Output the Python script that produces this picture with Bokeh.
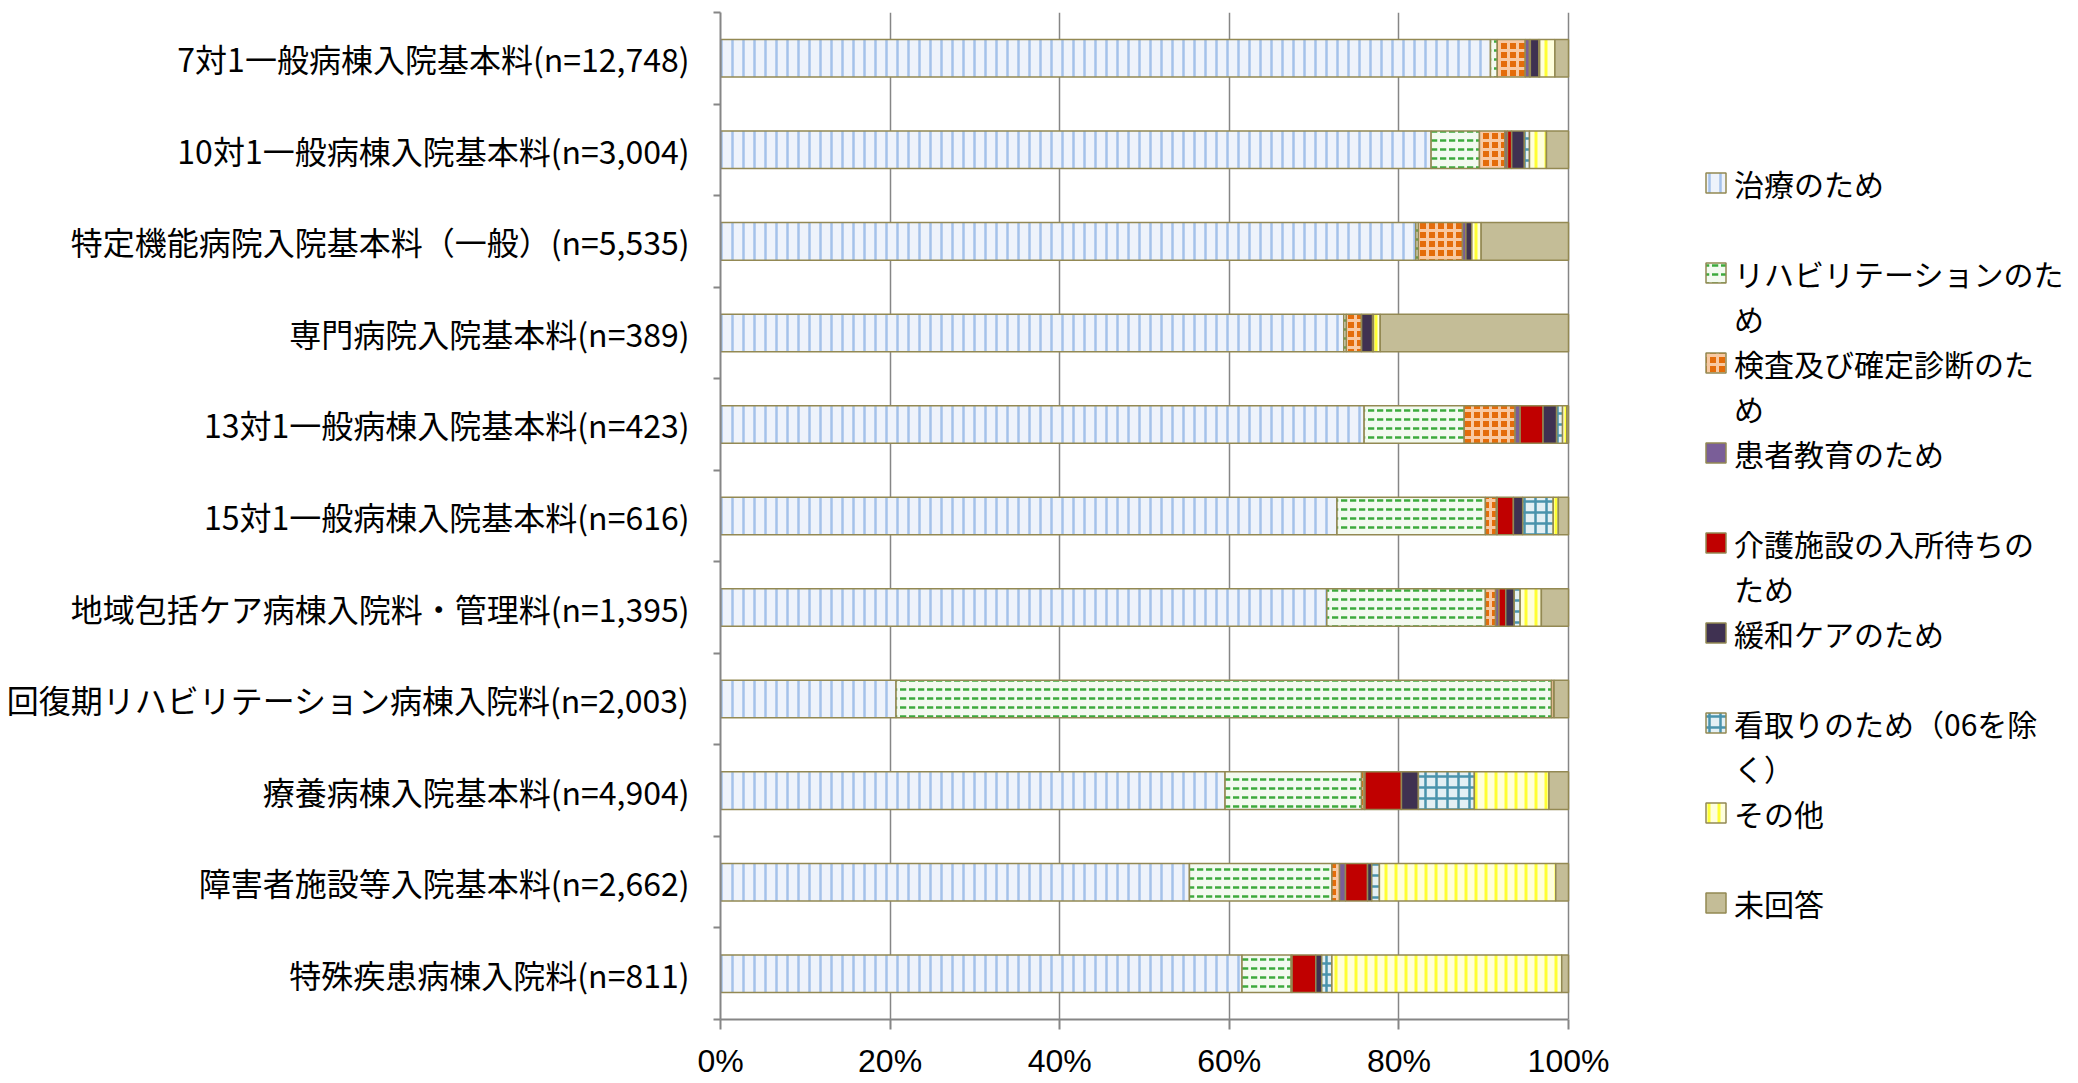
from bokeh.plotting import figure
from bokeh.models import (ColumnDataSource, Range1d, FixedTicker, PrintfTickFormatter,
                          Legend, LegendItem)
from bokeh.transform import stack
from bokeh.embed import file_html
from bokeh.resources import INLINE

categories = [
    "7対1一般病棟入院基本料(n=12,748)",
    "10対1一般病棟入院基本料(n=3,004)",
    "特定機能病院入院基本料（一般）(n=5,535)",
    "専門病院入院基本料(n=389)",
    "13対1一般病棟入院基本料(n=423)",
    "15対1一般病棟入院基本料(n=616)",
    "地域包括ケア病棟入院料・管理料(n=1,395)",
    "回復期リハビリテーション病棟入院料(n=2,003)",
    "療養病棟入院基本料(n=4,904)",
    "障害者施設等入院基本料(n=2,662)",
    "特殊疾患病棟入院料(n=811)",
]

# legend labels, wrapped as in the original (first line, second line)
series_labels = [
    ("治療のため", " "),
    ("リハビリテーションのた", "め"),
    ("検査及び確定診断のた", "め"),
    ("患者教育のため", " "),
    ("介護施設の入所待ちの", "ため"),
    ("緩和ケアのため", " "),
    ("看取りのため（06を除", "く）"),
    ("その他", " "),
    ("未回答", None),
]

treatment   = [90.8, 83.8, 82.0, 73.5, 75.9, 72.7, 71.5, 20.7, 59.5, 55.3, 61.5]
rehab       = [0.8, 5.7, 0.3, 0.3, 11.8, 17.5, 18.7, 77.3, 16.1, 16.8, 5.8]
exam        = [3.3, 3.0, 5.2, 1.8, 6.0, 1.3, 1.2, 0.3, 0.3, 0.9, 0.1]
education   = [0.5, 0.3, 0.4, 0.0, 0.6, 0.1, 0.4, 0.0, 0.1, 0.7, 0.0]
care_wait   = [0.1, 0.5, 0.0, 0.0, 2.7, 1.9, 0.8, 0.0, 4.3, 2.6, 2.8]
palliative  = [1.0, 1.5, 0.7, 1.3, 1.6, 1.1, 1.0, 0.0, 2.0, 0.5, 0.7]
end_of_life = [0.1, 0.6, 0.0, 0.1, 0.7, 3.6, 0.7, 0.0, 6.6, 0.9, 1.2]
other       = [1.8, 2.0, 1.1, 0.8, 0.5, 0.6, 2.5, 0.0, 8.8, 20.8, 27.1]
no_answer   = [1.6, 2.6, 10.3, 22.2, 0.2, 1.2, 3.2, 1.7, 2.3, 1.5, 0.8]

keys = ["treatment", "rehab", "exam", "education", "care_wait",
        "palliative", "end_of_life", "other", "no_answer"]
values = [treatment, rehab, exam, education, care_wait,
          palliative, end_of_life, other, no_answer]

x_ticks = [0, 20, 40, 60, 80, 100]

styles = [
    dict(fill_color="#EEF3FB", hatch_pattern="|", hatch_color="#A4C2EA", hatch_scale=11, hatch_weight=2.5),
    dict(fill_color="#F3FAF0", hatch_pattern='"', hatch_color="#3DAA3D", hatch_scale=9, hatch_weight=2.5),
    dict(fill_color="#E46C0A", hatch_pattern="+", hatch_color="#F8C9A2", hatch_scale=9, hatch_weight=3),
    dict(fill_color="#7A5E98"),
    dict(fill_color="#C00000"),
    dict(fill_color="#3F3151"),
    dict(fill_color="#E4F0F4", hatch_pattern="+", hatch_color="#4A93AC", hatch_scale=11, hatch_weight=2.5),
    dict(fill_color="#FFFFDC", hatch_pattern="|", hatch_color="#FFFF33", hatch_scale=10, hatch_weight=3),
    dict(fill_color="#C4BD97"),
]

data = {"y": list(range(len(categories)))}
for k, v in zip(keys, values):
    data[k] = v
source = ColumnDataSource(data)

JP = "Noto Sans CJK JP"
LAT = "'Liberation Sans Narrow', 'Liberation Sans'"
GRAY = "#868686"

W, H = 2076, 1081
FRAME_L, FRAME_R, FRAME_T, FRAME_B = 720, 1568, 12, 1024
# the frame is extended to the right edge so that the legend (drawn inside it) is not clipped;
# the value axis itself is bounded to 0-100 %
x_end = 100.0 * (W - FRAME_L) / (FRAME_R - FRAME_L)

p = figure(width=W, height=H, output_backend="svg", toolbar_location=None,
           x_range=Range1d(0, x_end), y_range=Range1d(len(categories) - 0.5, -0.5),
           min_border_left=FRAME_L, min_border_right=0, min_border_top=FRAME_T,
           min_border_bottom=H - FRAME_B)
p.outline_line_color = None

renderers = []
for i, k in enumerate(keys):
    r = p.hbar(y="y", left=stack(*keys[:i]), right=stack(*keys[:i + 1]), height=0.41,
               source=source, line_color="#938953", line_width=1.5, **styles[i])
    renderers.append(r)

# invisible renderer used only for the wrapped second lines of legend labels
blank = p.hbar(y="y", left=0, right=0, height=0, source=source,
               fill_alpha=0, line_alpha=0)

# x axis
p.xaxis.bounds = (0, 100)
p.xaxis.ticker = FixedTicker(ticks=x_ticks)
p.xaxis.formatter = PrintfTickFormatter(format="%d%%")
p.xaxis.axis_line_color = GRAY
p.xaxis.axis_line_width = 2
p.xaxis.major_tick_line_color = GRAY
p.xaxis.major_tick_line_width = 2
p.xaxis.major_tick_out = 10
p.xaxis.major_tick_in = 0
p.xaxis.minor_tick_line_color = None
p.xaxis.major_label_text_font = LAT
p.xaxis.major_label_text_font_size = "32px"
p.xaxis.major_label_text_color = "black"
p.xaxis.major_label_standoff = 13

# y axis
p.yaxis.ticker = FixedTicker(ticks=list(range(len(categories))),
                             minor_ticks=[i - 0.5 for i in range(len(categories) + 1)])
p.yaxis.major_label_overrides = {i: c for i, c in enumerate(categories)}
p.yaxis.axis_line_color = GRAY
p.yaxis.axis_line_width = 2
p.yaxis.major_tick_line_color = None
p.yaxis.major_tick_out = 0
p.yaxis.major_tick_in = 0
p.yaxis.minor_tick_line_color = GRAY
p.yaxis.minor_tick_line_width = 2
p.yaxis.minor_tick_out = 7
p.yaxis.minor_tick_in = 0
p.yaxis.major_label_text_font = JP
p.yaxis.major_label_text_font_size = "32px"
p.yaxis.major_label_text_color = "black"
p.yaxis.major_label_standoff = 24

p.ygrid.grid_line_color = None
p.xgrid.grid_line_color = GRAY
p.xgrid.grid_line_width = 1.5

items = []
for (first, second), r in zip(series_labels, renderers):
    items.append(LegendItem(label=first, renderers=[r]))
    if second is not None:
        items.append(LegendItem(label=second, renderers=[blank]))

legend = Legend(items=items, location=(983, 94))
legend.label_text_font = JP
legend.label_text_font_size = "30px"
legend.label_text_color = "black"
legend.glyph_width = 25
legend.glyph_height = 25
legend.label_standoff = 6
legend.label_height = 45
legend.spacing = 0
legend.padding = 0
legend.margin = 0
legend.border_line_color = None
legend.background_fill_alpha = 0
p.add_layout(legend, "center")

open("out.html", "w").write(file_html(p, INLINE))
